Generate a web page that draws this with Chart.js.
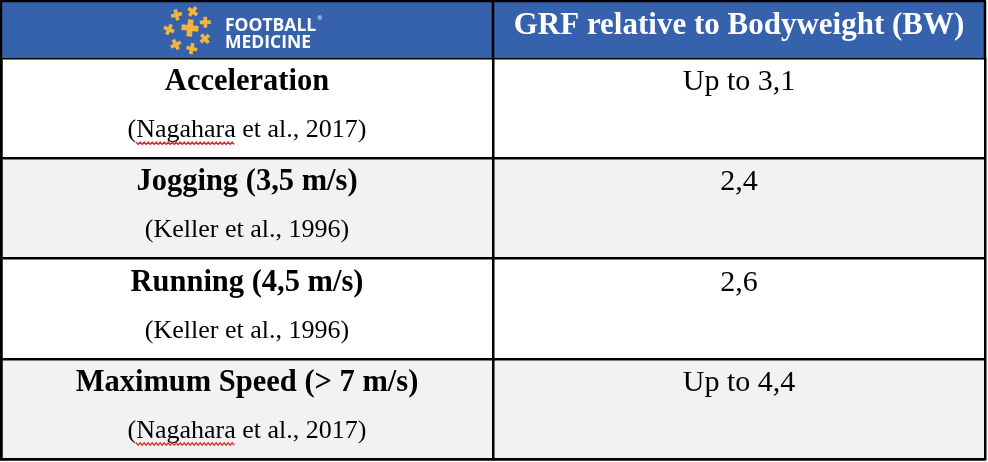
<!DOCTYPE html>
<html>
<head>
<meta charset="utf-8">
<script src="https://cdn.jsdelivr.net/npm/chart.js@4.4.1/dist/chart.umd.min.js"></script>
<style>
  html, body { margin: 0; padding: 0; background: #fff; }
  #wrap { width: 988px; height: 462px; }
</style>
</head>
<body>
<div id="wrap"><canvas id="grfTable"></canvas></div>
<script>
const activities = ['Acceleration', 'Jogging (3,5 m/s)', 'Running (4,5 m/s)', 'Maximum Speed (> 7 m/s)'];
const references = ['(Nagahara et al., 2017)', '(Keller et al., 1996)', '(Keller et al., 1996)', '(Nagahara et al., 2017)'];
const grfValues = ['Up to 3,1', '2,4', '2,6', 'Up to 4,4'];
const columnHeaders = ['FOOTBALL', 'MEDICINE', 'GRF relative to Bodyweight (BW)'];

const headerBlue = '#3561ad';
const logoYellow = '#f1b43e';
const serif = '"Liberation Serif", "Times New Roman", serif';

function drawCross(ctx, cx, cy, s, rot) {
    ctx.save();
    ctx.translate(cx, cy);
    ctx.rotate(rot);
    ctx.fillRect(-s / 2, -s / 6, s, s / 3);
    ctx.fillRect(-s / 6, -s / 2, s / 3, s);
    ctx.restore();
}

// header band sits above the chart area
const headerRow = {
    id: 'headerRow',
    afterDraw(chart) {
        const { ctx, chartArea, scales: { x } } = chart;
        const left = x.getPixelForValue(0), mid = x.getPixelForValue(1), right = x.getPixelForValue(2);
        const top = 1, bottom = chartArea.top;
        ctx.save();
        ctx.fillStyle = headerBlue;
        ctx.fillRect(left, top, right - left, bottom - top);

        // logo
        const lx = 188, ly = 30;
        ctx.fillStyle = logoYellow;
        drawCross(ctx, lx + 2, ly - 2, 17, 0.1);
        for (let k = 0; k < 7; k++) {
            const a = -Math.PI / 2 + k * (2 * Math.PI / 7) + 0.25;
            drawCross(ctx, lx + Math.cos(a) * 19, ly + Math.sin(a) * 19, 11, a + 0.4);
        }
        ctx.fillStyle = '#fff';
        ctx.textAlign = 'left';
        ctx.textBaseline = 'alphabetic';
        ctx.font = 'bold 17.5px "Open Sans", sans-serif';
        ctx.fillText(columnHeaders[0], 225, 31);
        ctx.fillText(columnHeaders[1], 225, 48);
        const fw = ctx.measureText(columnHeaders[0]).width;
        ctx.font = '6px "Open Sans", sans-serif';
        ctx.fillText('®', 225 + fw + 1, 20);

        ctx.textAlign = 'center';
        ctx.font = 'bold 31px ' + serif;
        ctx.fillText(columnHeaders[2], (mid + right) / 2, top + 33);

        // borders of the header band
        ctx.strokeStyle = '#000';
        ctx.lineWidth = 2.5;
        ctx.beginPath();
        ctx.moveTo(left - 1, top);
        ctx.lineTo(right + 1, top);
        [left, mid, right].forEach(px => {
            ctx.moveTo(px, top);
            ctx.lineTo(px, bottom);
        });
        ctx.stroke();
        ctx.restore();
    }
};

const cellText = {
    id: 'cellText',
    afterDatasetsDraw(chart) {
        const { ctx, scales: { x, y } } = chart;
        const leftMid = x.getPixelForValue(0.5), rightMid = x.getPixelForValue(1.5);
        const rowH = y.getPixelForValue(1) - y.getPixelForValue(0);
        ctx.save();
        ctx.fillStyle = '#000';
        ctx.textAlign = 'center';
        ctx.textBaseline = 'alphabetic';
        activities.forEach((name, i) => {
            const top = y.getPixelForValue(i) - rowH / 2;
            ctx.font = 'bold 30.5px ' + serif;
            ctx.fillText(name, leftMid, top + 32);
            ctx.font = '30px ' + serif;
            ctx.fillText(grfValues[i], rightMid, top + 32);
            ctx.font = '26px ' + serif;
            const ref = references[i];
            ctx.fillText(ref, leftMid, top + 79);

            // spell-check squiggle under the author name
            if (ref.indexOf('Nagahara') >= 0) {
                const startX = leftMid - ctx.measureText(ref).width / 2 + ctx.measureText('(').width;
                const w = ctx.measureText('Nagahara').width;
                ctx.strokeStyle = '#d8302c';
                ctx.lineWidth = 1.3;
                ctx.beginPath();
                for (let px = 0; px <= w; px += 2) {
                    const py = top + 84 + ((px / 2) % 2 === 0 ? 0 : 2.5);
                    if (px === 0) ctx.moveTo(startX + px, py); else ctx.lineTo(startX + px, py);
                }
                ctx.stroke();
            }
        });
        ctx.restore();
    }
};

new Chart(document.getElementById('grfTable').getContext('2d'), {
    type: 'bar',
    data: {
        labels: activities,
        datasets: [{
            label: 'rows',
            data: activities.map(() => [0, 2]),
            backgroundColor: ctx => (ctx.dataIndex % 2 ? '#f2f2f2' : '#ffffff'),
            borderWidth: 0,
            barPercentage: 1,
            categoryPercentage: 1
        }]
    },
    options: {
        indexAxis: 'y',
        responsive: true,
        maintainAspectRatio: false,
        animation: false,
        layout: {
            padding: { top: 58, left: 1, right: 3, bottom: 3 }
        },
        plugins: {
            legend: { display: false },
            tooltip: { enabled: false }
        },
        scales: {
            x: {
                z: 1,
                min: 0,
                max: 2,
                ticks: { display: false, stepSize: 1 },
                grid: { z: 1, color: '#000', lineWidth: 2.5, drawTicks: false },
                border: { z: 1, color: '#000', width: 2.5 }
            },
            y: {
                z: 1,
                ticks: { display: false },
                grid: { z: 1, color: '#000', lineWidth: 2.5, drawTicks: false, offset: true },
                border: { z: 1, color: '#000', width: 2.5 }
            }
        }
    },
    plugins: [headerRow, cellText]
});
</script>
</body>
</html>
